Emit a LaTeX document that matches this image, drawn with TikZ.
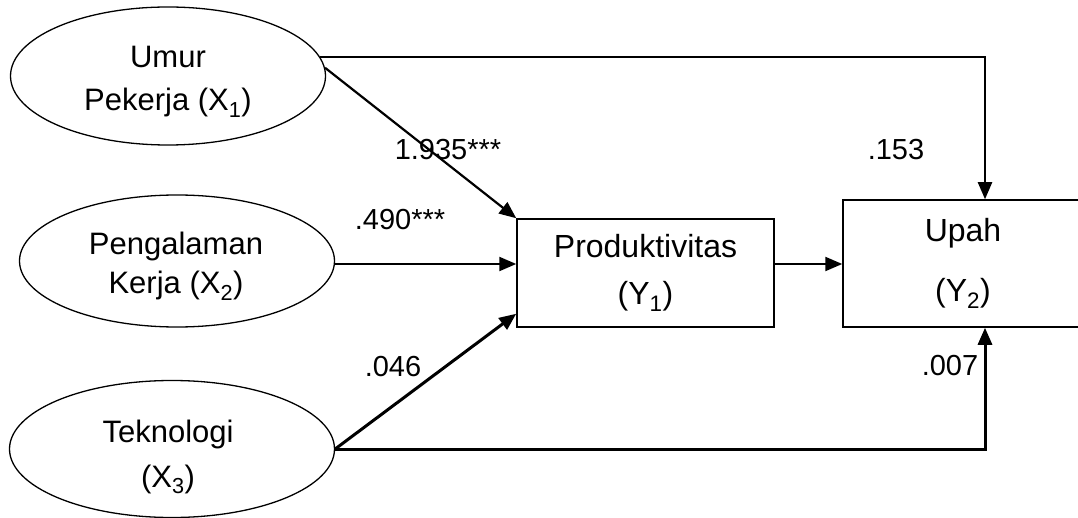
\documentclass[tikz,border=0pt]{standalone}
\usepackage{fontspec}
\setmainfont{Liberation Sans}
\usetikzlibrary{shapes.geometric,arrows.meta,calc}
\begin{document}
\begin{tikzpicture}[x=1pt,y=-1pt,
  lat/.style={ellipse,draw,line width=1.3pt,inner sep=0pt},
  lattext/.style={inner sep=0pt,align=center,font=\fontsize{31}{43}\selectfont},
  obs/.style={rectangle,draw,line width=1.5pt,inner sep=0pt,align=center,
    font=\fontsize{32}{47}\selectfont},
  pth/.style={line width=2.2pt,-{Triangle[length=17pt,width=14pt]}},
  thk/.style={line width=3pt,-{Triangle[length=17pt,width=14pt]}},
  coef/.style={inner sep=0pt,font=\fontsize{29}{32}\selectfont}]
\useasboundingbox (0,0) rectangle (1078,518);
\node[lat,minimum width=315pt,minimum height=138pt] (e1) at (168,76) {};
\node[lattext] (t1) at (168,82) {Umur\\Pekerja (X\textsubscript{1})};
\node[lat,minimum width=315pt,minimum height=132pt] (e2) at (177,261) {};
\node[lattext,font=\fontsize{31}{39}\selectfont] (t2) at (176,266) {Pengalaman\\Kerja (X\textsubscript{2})};
\node[lat,minimum width=325pt,minimum height=137pt] (e3) at (172,449) {};
\node[lattext,font=\fontsize{31}{45}\selectfont] (t3) at (168,457) {Teknologi\\(X\textsubscript{3})};
\node[obs,minimum width=257pt,minimum height=108pt] (prod) at (645.5,273) {Produktivitas\\(Y\textsubscript{1})};
\node[obs,minimum width=240pt,minimum height=127pt,font=\fontsize{32}{60}\selectfont] (upah) at (963,263.5) {Upah\\(Y\textsubscript{2})};
\coordinate (utop) at ([xshift=22pt]upah.north);
\coordinate (ubot) at ([xshift=22pt]upah.south);
\draw[pth] (e1.3) -- (prod.north west);
\draw[pth] (e1.7) -| (utop);
\draw[pth] (e2.east |- 0,264) -- (prod.west |- 0,264);
\draw[thk] (e3.east) -- ([yshift=14pt]prod.south west);
\draw[thk] (e3.east) -| (ubot);
\draw[pth] (prod.east |- 0,264) -- (upah.west |- 0,264);
\node[coef] (c1) at (448,150) {1.935***};
\node[coef] (c2) at (400,220) {.490***};
\node[coef] (c3) at (896,150) {.153};
\node[coef] (c4) at (393,367) {.046};
\node[coef] (c5) at (950,366) {.007};
\end{tikzpicture}
\end{document}
